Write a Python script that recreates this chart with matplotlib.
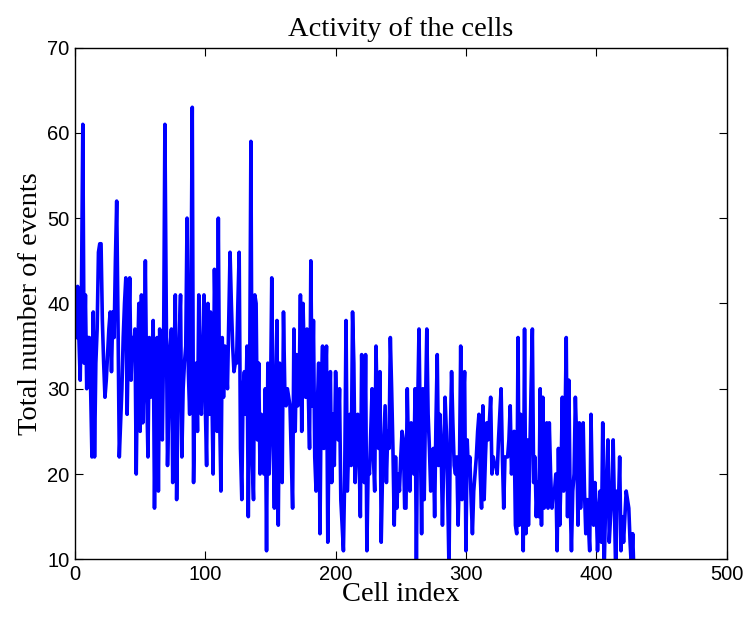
import numpy as np
import matplotlib
matplotlib.use("Agg")
import matplotlib.pyplot as plt

# total events per cell
events = [
    36, 42, 36, 31, 42, 61, 33, 41, 30, 36, 36, 30, 22, 39, 22, 33, 37, 46, 47, 47,
    38, 33, 29, 31, 34, 37, 39, 32, 39, 36, 45, 52, 38, 22, 26, 30, 36, 40, 43, 27,
    36, 43,
    31, 36, 34, 37, 20, 33, 40, 25, 41, 26, 32, 45, 30, 22, 36, 29, 33, 38, 16, 30,
    36, 18, 37, 30, 24, 35, 61, 40, 21, 28, 35, 37, 19, 33, 41, 17, 28, 36,
    41, 22, 30, 33, 35, 50, 32, 27, 40, 63, 19, 30, 33, 25, 41, 30, 27, 35, 41, 28,
    21, 40, 27, 39, 30, 20, 44, 35, 25, 50, 27, 18, 36, 29, 35, 33, 30, 38, 46, 40,
    35, 32, 33, 33, 40, 46, 23,
    17, 30, 32, 27, 35, 15, 30, 59, 22, 17, 41, 40, 24, 33, 20, 27, 22, 20, 30, 11,
    33, 20, 28, 43, 25, 16, 30, 38, 14, 33, 25, 19, 39, 30, 28, 30, 29, 28, 22, 16,
    37, 25,
    34, 28, 30, 41, 25, 40, 33, 29, 37, 30, 23, 45, 28, 38, 22, 18, 28, 33, 13, 30,
    35, 23, 30, 35, 12, 25, 32, 19, 27, 21, 32, 26, 24, 30, 17, 14, 11, 20, 38, 18,
    23, 27,
    21, 39, 33, 19, 24, 27, 22, 15, 34, 25, 19, 34, 11, 21, 20, 25, 30, 22, 18, 35,
    27, 23, 32, 12, 20, 24, 28, 19, 25, 23, 36, 30, 23, 14, 22, 16, 20, 18, 22, 25,
    24, 16,
    16, 30, 22, 18, 26, 24, 20, 30, 9, 28, 37, 25, 13, 30, 17, 28, 37, 27, 23, 18,
    22, 23, 15, 26, 34, 21, 27, 23, 14, 22, 29, 25, 18, 9, 24, 32, 26, 21, 20, 22,
    14, 20, 35,
    17, 28, 32, 11, 24, 20, 22, 17, 13, 18, 20, 22, 25, 27, 20, 16, 28, 17, 22, 26,
    24, 26, 29, 20, 22, 21, 21, 20, 24, 27, 30, 22, 16, 22, 22, 22, 24, 28, 20, 23,
    25, 14,
    13, 36, 14, 27, 23, 11, 37, 13, 24, 14, 22, 30, 37, 19, 22, 15, 19, 15, 30, 14,
    29, 16, 22, 26, 16, 26, 20, 16, 18, 18, 20, 11, 23, 14, 20, 29, 18, 25, 36, 15,
    31, 17,
    11, 18, 20, 29, 24, 14, 26, 16, 20, 26, 18, 13, 17, 14, 11, 27, 18, 14, 19, 16,
    11, 15, 18, 12, 26, 8, 15, 20, 24, 12, 15, 18, 24, 16, 8, 18, 16, 22, 11, 15,
    12, 15, 18, 17, 16, 12, 9, 13, 8,
]
cell_index = np.arange(1, len(events) + 1)

x_ticks = [0, 100, 200, 300, 400, 500]
y_ticks = [10, 20, 30, 40, 50, 60, 70]

fig = plt.figure(figsize=(7.44, 6.18), dpi=100)
ax = fig.add_axes([0.1008, 0.095, 0.8757, 0.828])

ax.plot(cell_index, events, color="#0000ff", linewidth=2.6)

ax.set_xlim(0, 500)
ax.set_ylim(10, 70)
ax.set_xticks(x_ticks)
ax.set_yticks(y_ticks)
ax.tick_params(direction="in", length=6, width=0.8, top=True, right=True,
               labelsize=14.5, pad=4)
for lab in ax.get_xticklabels() + ax.get_yticklabels():
    lab.set_family("Liberation Sans")
for s in ax.spines.values():
    s.set_linewidth(1.0)

serif = "Liberation Serif"
ax.set_title("Activity of the cells", family=serif, fontsize=20.5, pad=8)
ax.set_xlabel("Cell index", family=serif, fontsize=20.5, labelpad=-1)
ax.set_ylabel("Total number of events", family=serif, fontsize=20.5, labelpad=3)

fig.savefig("out.png", dpi=100)
